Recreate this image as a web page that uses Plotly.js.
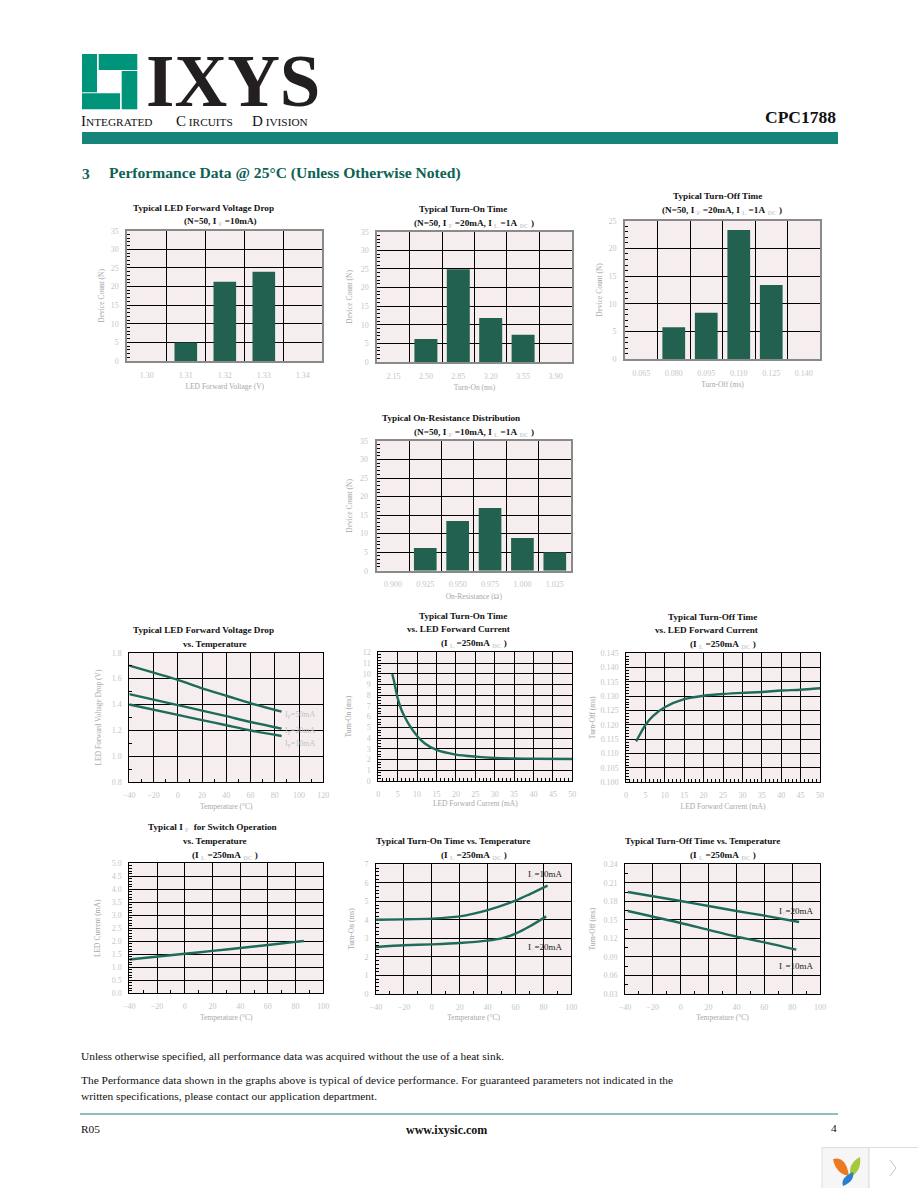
<!DOCTYPE html>
<html><head><meta charset="utf-8">
<script src="https://cdn.plot.ly/plotly-3.0.0.min.js"></script>
<style>html,body{margin:0;padding:0;background:#fff}#c{width:918px;height:1188px}</style>
</head><body><div id="c"></div>
<script>
// ---- chart data ----
const vfCategories = ['1.30','1.31','1.32','1.33','1.34'];
const vfCounts     = [0,5,21.3,24,0];
const tonCategories = ['2.15','2.50','2.85','3.20','3.55','3.90'];
const tonCounts     = [0,6.2,24.9,11.8,7.3,0];
const toffCategories = ['0.065','0.080','0.095','0.110','0.125','0.140'];
const toffCounts     = [0,5.8,8.4,23.3,13.4,0];
const ronCategories = ['0.900','0.925','0.950','0.975','1.000','1.025'];
const ronCounts     = [0,6.1,13.4,16.9,8.8,5];

const vfTemp   = [-40,0,20,40,60,85.6];
const vf50mA   = [1.70,1.59,1.525,1.468,1.41,1.345];
const vf20mA   = [1.48,1.396,1.353,1.31,1.265,1.214];
const vf10mA   = [1.40,1.32,1.28,1.24,1.20,1.157];

const tonIfX = [3.6,4,5,6,7,8,10,12,15,20,25,30,35,40,50];
const tonIfY = [9.98,9.4,7.7,6.6,5.85,5.2,4.2,3.5,2.9,2.46,2.27,2.15,2.1,2.08,2.05];
const toffIfX = [2.6,3.5,5,7,10,15,20,25,30,35,40,45,50];
const toffIfY = [.1143,.1165,.12,.1232,.1262,.129,.1302,.1308,.1312,.1315,.132,.1323,.1328];

const ifTemp = [-40,0,20,40,60,80,86];
const ifVal  = [1.3,1.52,1.63,1.74,1.86,1.98,2.01];

const tonT10X = [-40,-20,0,20,40,60,70,83];
const tonT10Y = [4.01,4.03,4.07,4.19,4.53,5.04,5.38,5.85];
const tonT20X = [-40,-20,0,20,40,50,60,70,82];
const tonT20Y = [2.54,2.63,2.68,2.75,2.88,3.0,3.26,3.64,4.19];

const toffT20X = [-38,0,20,40,60,85];
const toffT20Y = [.1952,.1806,.1725,.1644,.1569,.1466];
const toffT10X = [-38,0,20,40,60,83];
const toffT10Y = [.1644,.145,.1337,.1229,.1137,.1018];

// ---- styling ----
const W=918,H=1188;
const SERIF='"Liberation Serif", serif';
const BAR='#22614f', LINE='#1f6b5a', PLOT='#f6eeee', GRID='#000000', EDGE='#8a8a8a';
const TICKC='#c6c6c6', AXT='#a8a8a8';
const fx=x=>x/W, fy=y=>1-y/H;

const traces=[], layout={
  width:W,height:H,margin:{l:0,r:0,t:0,b:0},paper_bgcolor:'#fff',plot_bgcolor:PLOT,
  showlegend:false,font:{family:SERIF,color:'#111'},annotations:[],shapes:[]
};

function addAxes(n,rect,xo,yo,isBar){
  const [l,r,t,b]=rect, sfx=n===1?'':n;
  const base={showline:true,mirror:true,linecolor:isBar?EDGE:GRID,linewidth:isBar?2:1,zeroline:false,
    tickfont:{size:8,color:TICKC,family:SERIF},ticks:'',showgrid:true,gridcolor:GRID,gridwidth:1,ticklabelstandoff:5};
  layout['xaxis'+sfx]=Object.assign({},base,{domain:[fx(l),fx(r)],anchor:'y'+sfx},xo);
  layout['yaxis'+sfx]=Object.assign({},base,{domain:[fy(b),fy(t)],anchor:'x'+sfx},yo);
}
function axTitle(text,standoff){return {text,standoff,font:{size:7.5,color:AXT,family:SERIF}};}
function mticks(d){return {dtick:d,ticks:'inside',ticklen:3,tickwidth:1,tickcolor:GRID,showgrid:false};}

function barChart(n,rect,cats,vals,ymax,ydtick,yminor,bw,xt,yt,ys){
  const sfx=n===1?'':n, idx=cats.map((c,i)=>i);
  traces.push({type:'bar',x:idx,y:vals,width:bw,marker:{color:BAR,line:{width:0}},xaxis:'x'+sfx,yaxis:'y'+sfx,hoverinfo:'skip'});
  addAxes(n,rect,{
    range:[-.5,cats.length-.5],tickmode:'array',tickvals:idx,ticktext:cats,showgrid:false,
    minor:{tickmode:'array',tickvals:idx.slice(1).map(i=>i-.5),showgrid:true,gridcolor:GRID,gridwidth:1,ticks:''},
    title:axTitle(xt,5)
  },{range:[0,ymax],dtick:ydtick,tick0:0,minor:mticks(yminor),title:axTitle(yt,ys)},true);
}
function lineChart(n,rect,series,xo,yo){
  const sfx=n===1?'':n;
  series.forEach(s=>traces.push({type:'scatter',mode:'lines',x:s[0],y:s[1],
    line:{color:LINE,width:2.4,shape:'spline',smoothing:.7},xaxis:'x'+sfx,yaxis:'y'+sfx,hoverinfo:'skip'}));
  addAxes(n,rect,xo,yo,false);
}
function T(text,x,y,o={}){
  layout.annotations.push({text,x:fx(x),y:fy(y),xref:'paper',yref:'paper',showarrow:false,
    xanchor:o.anchor||'center',yanchor:'middle',align:o.anchor==='right'?'right':'left',borderpad:0,
    font:{family:o.family||SERIF,size:o.size||9.2,color:o.color||'#111',weight:o.weight===undefined?700:o.weight}});
}
function rect(x0,y0,x1,y1,fill,line){
  layout.shapes.push({type:'rect',xref:'paper',yref:'paper',x0:fx(x0),x1:fx(x1),y0:fy(y0),y1:fy(y1),
    fillcolor:fill,line:line?{color:line,width:1}:{width:0},layer:'above'});
}
function pathShape(d,fill,line){
  const p=d.replace(/(-?\d+\.?\d*),(-?\d+\.?\d*)/g,(m,a,b)=>fx(+a)+','+fy(+b));
  layout.shapes.push({type:'path',xref:'paper',yref:'paper',path:p,fillcolor:fill||'rgba(0,0,0,0)',
    line:line?{color:line,width:1}:{width:0},layer:'above'});
}
const sb=s=>'\u00a0<span style="color:#cfcfcf"><sub>'+s+'</sub></span>\u00a0';
const sn=s=>'<span style="color:#e2dcdc"><sub>'+s+'</sub></span>';

// ---- histograms ----
barChart(1,[127.3,322.3,230.7,361],vfCategories,vfCounts,35,5,1,.58,'LED Forward Voltage (V)','Device Count (N)',5);
barChart(2,[377.3,571.7,231.7,362],tonCategories,tonCounts,35,5,1,.71,'Turn-On (ms)','Device Count (N)',7);
barChart(3,[625,820,220.7,359.3],toffCategories,toffCounts,25,5,1,.7,'Turn-Off (ms)','Device Count (N)',5);
barChart(4,[376.7,571,441,570.7],ronCategories,ronCounts,35,5,1,.7,'On-Resistance (\u2126)','Device Count (N)',6);

// ---- curves ----
lineChart(5,[129.3,323.3,652.7,782.3],[[vfTemp,vf50mA],[vfTemp,vf20mA],[vfTemp,vf10mA]],
  {range:[-40,120],dtick:20,tick0:-40,minor:mticks(10),title:axTitle('Temperature (\u00b0C)',4)},
  {range:[.8,1.8],dtick:.2,tick0:.8,tickformat:'.1f',minor:mticks(.1),title:axTitle('LED Forward Voltage Drop (V)',9)});
lineChart(6,[378.3,572.3,652.3,781],[[tonIfX,tonIfY]],
  {range:[0,50],dtick:5,tick0:0,minor:mticks(1),title:axTitle('LED Forward Current (mA)',3)},
  {range:[0,12],dtick:1,tick0:0,minor:mticks(.25),title:axTitle('Turn-On (ms)',10)});
lineChart(7,[626,820,653.3,782.3],[[toffIfX,toffIfY]],
  {range:[0,50],dtick:5,tick0:0,minor:mticks(1),title:axTitle('LED Forward Current (mA)',4)},
  {range:[.1,.145],dtick:.005,tick0:.1,tickformat:'.3f',minor:mticks(.001),title:axTitle('Turn-Off (ms)',3)});
lineChart(8,[129.3,323.3,863.3,993.3],[[ifTemp,ifVal]],
  {range:[-40,100],dtick:20,tick0:-40,minor:mticks(10),title:axTitle('Temperature (\u00b0C)',4)},
  {range:[0,5],dtick:.5,tick0:0,tickformat:'.1f',minor:mticks(.1),title:axTitle('LED Current (mA)',10)});
lineChart(9,[376,571.3,864.3,994],[[tonT10X,tonT10Y],[tonT20X,tonT20Y]],
  {range:[-40,100],dtick:20,tick0:-40,minor:mticks(10),title:axTitle('Temperature (\u00b0C)',4)},
  {range:[0,7],dtick:1,tick0:0,minor:mticks(.2),title:axTitle('Turn-On (ms)',8)});
lineChart(10,[625,820,864.3,994],[[toffT20X,toffT20Y],[toffT10X,toffT10Y]],
  {range:[-40,100],dtick:20,tick0:-40,minor:mticks(10),title:axTitle('Temperature (\u00b0C)',4)},
  {range:[.03,.24],dtick:.03,tick0:.03,tickformat:'.2f',minor:mticks(.015),title:axTitle('Turn-Off (ms)',6)});

// ---- chart titles ----
T('Typical LED Forward Voltage Drop',203,208);
T('(N=50, I'+sb('F')+'=10mA)',220,222);
T('Typical Turn-On Time',463,209);
T('(N=50, I'+sb('F')+'=20mA, I'+sb('L')+'=1A'+sb('DC')+')',474,223);
T('Typical Turn-Off Time',717,195.7);
T('(N=50, I'+sb('F')+'=20mA, I'+sb('L')+'=1A'+sb('DC')+')',722,211);
T('Typical On-Resistance Distribution',451,417.7);
T('(N=50, I'+sb('F')+'=10mA, I'+sb('L')+'=1A'+sb('DC')+')',473.7,432);
T('Typical LED Forward Voltage Drop',203.8,630);
T('vs. Temperature',215,644);
T('Typical Turn-On Time',463,616);
T('vs. LED Forward Current',458.8,629.3);
T('(I'+sb('L')+'=250mA'+sb('DC')+')',474,643.3);
T('Typical Turn-Off Time',712.5,617);
T('vs. LED Forward Current',706.7,630);
T('(I'+sb('L')+'=250mA'+sb('DC')+')',722.7,644);
T('Typical I'+sb('F')+' for Switch Operation',212.5,827.7);
T('vs. Temperature',215.3,840.7);
T('(I'+sb('L')+'=250mA'+sb('DC')+')',225.3,855);
T('Typical Turn-On Time vs. Temperature',452.5,841);
T('(I'+sb('L')+'=250mA'+sb('DC')+')',474,855);
T('Typical Turn-Off Time vs. Temperature',702,840.7);
T('(I'+sb('L')+'=250mA'+sb('DC')+')',722.7,855);

// ---- curve labels ----
const lg={size:8,weight:400,color:'#c2c2c2'};
T('I<sub>F</sub>=50mA',300,714.5,lg);
T('I<sub>F</sub>=20mA',300,731,lg);
T('I<sub>F</sub>=10mA',300,744,lg);
const ld={size:9,weight:400,color:'#222'};
T('I'+sn('F')+'=10mA',545.5,875,ld);
T('I'+sn('F')+'=20mA',545.5,947.7,ld);
T('I'+sn('F')+'=20mA',796,911,ld);
T('I'+sn('F')+'=10mA',796,966.7,ld);

// ---- page header ----
const LOGO='#00957a';
rect(82,54,97,92.3,LOGO);
rect(98.7,54,137.3,70,LOGO);
rect(121.7,71,137.3,109.3,LOGO);
rect(82,93.3,120,109.3,LOGO);
T('IXYS',233,82,{size:73,weight:700,color:'#231f20'});
const sc=(a,b)=>'<span style="font-size:15px">'+a+'</span><span style="font-size:11.3px"> '+b+'</span>';
T('<span style="font-size:15px">I</span><span style="font-size:11.3px">NTEGRATED</span>',80,121,{anchor:'left',weight:400,size:11.3});
T(sc('C','IRCUITS'),175,121,{anchor:'left',weight:400,size:11.3});
T(sc('D','IVISION'),251,121,{anchor:'left',weight:400,size:11.3});
T('CPC1788',837,117,{anchor:'right',size:17.5});
rect(82,132,838,144,'#17847a');
T('3',81,173,{anchor:'left',size:15.5,color:'#0b6255'});
T('Performance Data @ 25\u00b0C (Unless Otherwise Noted)',108,173,{anchor:'left',size:15.6,color:'#0b6255'});

// ---- page footer ----
const body={anchor:'left',size:11.4,weight:400,color:'#111'};
T('Unless otherwise specified, all performance data was acquired without the use of a heat sink.',80,1056,body);
T('The Performance data shown in the graphs above is typical of device performance. For guaranteed parameters not indicated in the',80,1080,body);
T('written specifications, please contact our application department.',80,1096,body);
layout.shapes.push({type:'line',xref:'paper',yref:'paper',x0:fx(80),x1:fx(838),y0:fy(1114),y1:fy(1114),line:{color:'#17847a',width:1},layer:'above'});
T('R05',80,1129,body);
T('www.ixysic.com',446,1130,{size:12});
T('4',830,1128,{anchor:'left',size:11.4,weight:400});

// ---- corner widget ----
rect(822,1147.5,869,1189,'#f6f6f6','#dddddd');
rect(869,1147.5,919,1189,'#ffffff','#dddddd');
pathShape('M890,1160 L896,1168 L890,1176',null,'#c4c4c4');
pathShape('M833,1159 Q846,1156 849,1176 Q836,1174 833,1159 Z','#ec7a22');
pathShape('M851,1177 Q847,1164 860,1157 Q862,1170 851,1177 Z','#a6c83a');
pathShape('M843,1186 Q840,1178 853,1172 Q855,1181 843,1186 Z','#2a7fc8');

Plotly.newPlot('c',traces,layout,{staticPlot:true,displayModeBar:false});
</script></body></html>
